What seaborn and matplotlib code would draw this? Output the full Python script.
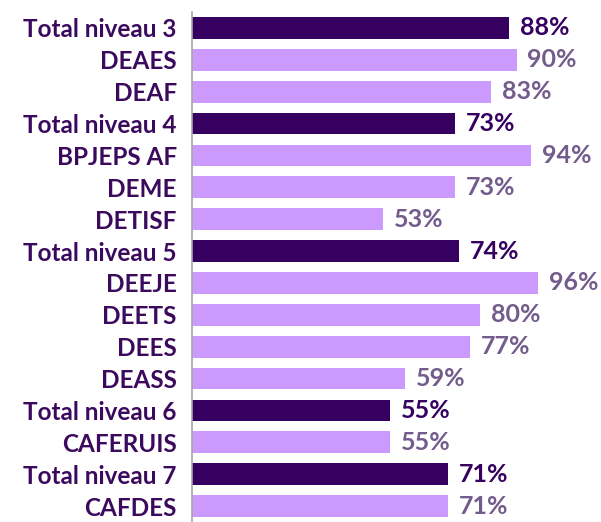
import matplotlib
matplotlib.use('Agg')
import matplotlib.pyplot as plt
import seaborn as sns
import numpy as np
import pandas as pd

# data
labels = ['Total niveau 3', 'DEAES', 'DEAF', 'Total niveau 4', 'BPJEPS AF', 'DEME', 'DETISF',
          'Total niveau 5', 'DEEJE', 'DEETS', 'DEES', 'DEASS', 'Total niveau 6', 'CAFERUIS',
          'Total niveau 7', 'CAFDES']
values = [88, 90, 83, 73, 94, 73, 53, 74, 96, 80, 77, 59, 55, 55, 71, 71]
is_total = [l.startswith('Total') for l in labels]

df = pd.DataFrame({'label': labels, 'value': values})

dark = '#360061'
light = '#CC99FF'
palette = [dark if t else light for t in is_total]

sns.set_style('white')
plt.rcParams['font.family'] = ['Lato', 'DejaVu Sans']

fig = plt.figure(figsize=(6.01, 5.22), dpi=100)
ax = fig.add_axes([0.3195, 0.0, 0.6, 0.977])

sns.barplot(data=df, y='label', x='value', hue='label', palette=palette, legend=False,
            orient='h', width=0.68, saturation=1, ax=ax, edgecolor='none')

ax.set_xlim(0, 100)
ax.set_ylim(len(labels) - 0.5, -0.5)
ax.set_xlabel('')
ax.set_ylabel('')
ax.set_xticks([])
for s in ['top', 'right', 'bottom']:
    ax.spines[s].set_visible(False)
ax.spines['left'].set_color('#A6A6A6')
ax.spines['left'].set_linewidth(1.2)

ax.tick_params(axis='y', which='major', length=0, pad=11)
ax.set_yticks(np.arange(-0.5, len(labels), 1), minor=True)
ax.tick_params(axis='y', which='minor', length=5, color='#A6A6A6', width=1.2)
ax.set_yticklabels(labels, fontsize=17.5, fontweight='bold', color='#3B0A5E')

for i, (v, t) in enumerate(zip(values, is_total)):
    ax.text(v + 3.0, i, f'{v}%', va='center', ha='left', fontsize=18, fontweight='bold',
            color=dark if t else '#735C8C')

fig.savefig('out.png', dpi=100)
